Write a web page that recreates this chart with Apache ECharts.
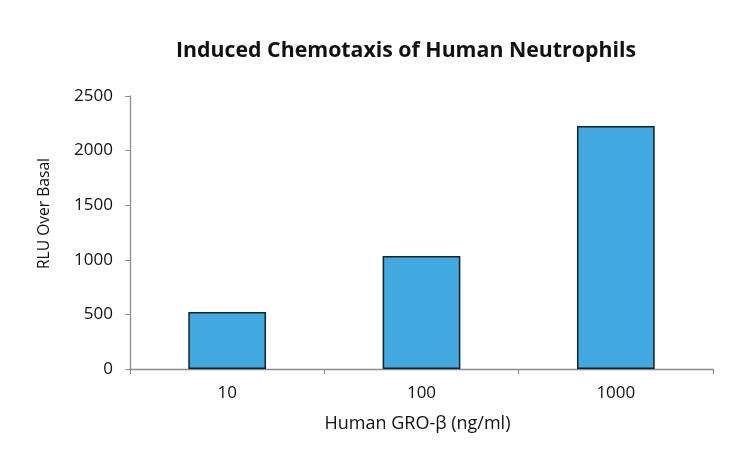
<!DOCTYPE html>
<html>
<head>
<meta charset="utf-8">
<script src="https://cdn.jsdelivr.net/npm/echarts@6/dist/echarts.min.js"></script>
<style>
  html, body { margin: 0; padding: 0; background: #fff; }
  #chart { width: 738px; height: 450px; }
</style>
</head>
<body>
<div id="chart"></div>
<script>
// doses and responses
var doses = ['10', '100', '1000'];
var rlu = [522, 1035, 2225];
var yTicks = [0, 500, 1000, 1500, 2000, 2500];

var fontFam = '"Open Sans", "DejaVu Sans", sans-serif';
var axisGray = '#8c8c8c';

var chart = echarts.init(document.getElementById('chart'));

chart.setOption({
    animation: false,
    title: {
        text: 'Induced Chemotaxis of Human Neutrophils',
        left: 401,
        top: 35,
        textAlign: 'center',
        textStyle: { fontFamily: fontFam, fontWeight: 'bold', fontSize: 21.3, color: '#111' }
    },
    grid: { left: 130, right: 25, top: 96, bottom: 81, containLabel: false },
    xAxis: {
        type: 'category',
        data: doses,
        name: 'Human GRO-\u03b2 (ng/ml)',
        nameLocation: 'middle',
        nameGap: 46,
        nameTextStyle: { fontFamily: fontFam, fontSize: 18, color: '#111', padding: [0, 8, 0, 0] },
        axisLine: { lineStyle: { color: axisGray, width: 1.3 } },
        axisTick: { show: true, alignWithLabel: false, length: 5, lineStyle: { color: axisGray } },
        axisLabel: { fontFamily: fontFam, fontSize: 17, color: '#111', margin: 16 }
    },
    yAxis: {
        type: 'value',
        min: yTicks[0],
        max: yTicks[yTicks.length - 1],
        interval: yTicks[1] - yTicks[0],
        name: 'RLU Over Basal',
        nameLocation: 'middle',
        nameGap: 77,
        nameTextStyle: { fontFamily: fontFam, fontSize: 15.6, color: '#111', padding: [0, 0, 0, 38] },
        axisLine: { show: true, lineStyle: { color: axisGray, width: 1.3 } },
        axisTick: { show: true, length: 5, lineStyle: { color: axisGray } },
        splitLine: { show: false },
        axisLabel: {
            fontFamily: fontFam, fontSize: 17, color: '#111', margin: 17,
            formatter: function (v) { return String(v); }
        }
    },
    series: [{
        type: 'bar',
        data: rlu,
        barWidth: '40%',
        itemStyle: { color: '#41a8e0', borderColor: '#15222b', borderWidth: 1.5 }
    }]
});
</script>
</body>
</html>
